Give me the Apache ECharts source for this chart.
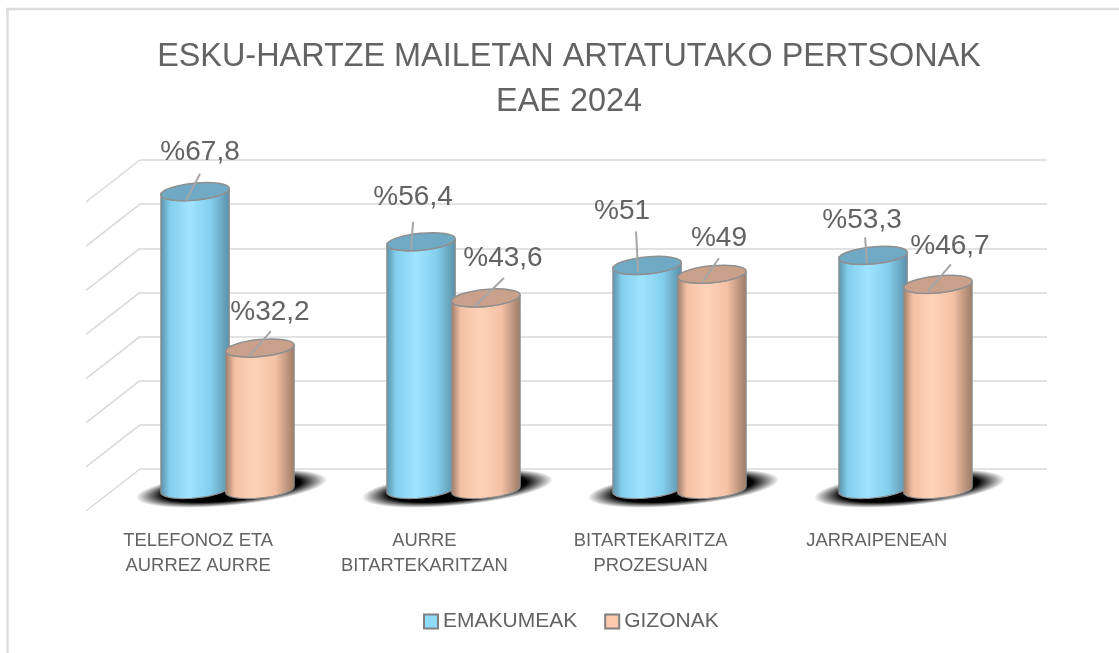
<!DOCTYPE html>
<html><head><meta charset="utf-8">
<style>html,body{margin:0;padding:0;background:#fff}#c{width:1119px;height:653px}</style>
<script src="https://cdn.jsdelivr.net/npm/echarts@6/dist/echarts.min.js"></script>
</head><body><div id="c"></div>
<script>
const titleLines = ['ESKU-HARTZE MAILETAN ARTATUTAKO PERTSONAK', 'EAE 2024'];
const categories = ['TELEFONOZ ETA\nAURREZ AURRE', 'AURRE\nBITARTEKARITZAN', 'BITARTEKARITZA\nPROZESUAN', 'JARRAIPENEAN'];
const emakumeak = [67.8, 56.4, 51, 53.3];
const gizonak = [32.2, 43.6, 49, 46.7];
const wallTicks = [0, 10, 20, 30, 40, 50, 60, 70];
const labelsEma = ['%67,8', '%56,4', '%51', '%53,3'];
const labelsGiz = ['%32,2', '%43,6', '%49', '%46,7'];
// manual label layout, relative to the top of each cylinder: [textDx, textDy, leaderStartDx, leaderStartDy, leaderEndDx, leaderEndDy]
const layoutEma = [[5,-39,5,-18,-9,9],[-8,-44,-8,-20,-10,8],[-25,-54,-11,-34,-9,6],[-11,-35,-8,-18,-6,8]];
const layoutGiz = [[10,-36,11,-17,-11,8],[17,-40,18,-20,-11,8],[7,-36,7,-16,-9,7],[12,-38,13,-20,-10,7]];

const FONT = 'Liberation Sans';
const GREY = '#636363';
const PHI = -5.5 * Math.PI / 180;

function ell(cx, cy, a, b, t) {
  return [cx + a*Math.cos(t)*Math.cos(PHI) - b*Math.sin(t)*Math.sin(PHI),
          cy + a*Math.cos(t)*Math.sin(PHI) + b*Math.sin(t)*Math.cos(PHI)];
}
function side(light, mid, dark) {
  return {type:'linear',x:0,y:0,x2:1,y2:0,colorStops:[
    {offset:0,color:dark},{offset:0.14,color:mid},{offset:0.42,color:light},
    {offset:0.72,color:mid},{offset:1,color:dark}]};
}
function cylinder(values, labels, layout, offsetFrac, fill, topFill) {
  return function(params, api) {
    const i = params.dataIndex;
    const band = api.size([1,0])[0];
    const base = api.coord([i, 0]);
    const cx = base[0] + band*offsetFrac;
    const top = api.coord([i, api.value(1)])[1];
    const bot = base[1];
    const a = band*0.152, b = 8.5;
    const pts = [];
    for (let k=0;k<=24;k++) pts.push(ell(cx,bot,a,b,Math.PI - Math.PI*k/24));
    for (let k=0;k<=24;k++) pts.push(ell(cx,top,a,b,Math.PI*k/24));
    const L = layout[i];
    return {type:'group',children:[
      {type:'polygon',shape:{points:pts},style:{fill:fill,stroke:'#8f8f8f',lineWidth:1.2}},
      {type:'ellipse',shape:{cx:cx,cy:top,rx:a,ry:b},rotation:-PHI,originX:cx,originY:top,
        style:{fill:topFill,stroke:'#8f8f8f',lineWidth:1.5}},
      {type:'line',shape:{x1:cx+L[2],y1:top+L[3],x2:cx+L[4],y2:top+L[5]},style:{stroke:'#a6a6a6',lineWidth:2}},
      {type:'text',style:{text:labels[i],x:cx+L[0],y:top+L[1],align:'center',verticalAlign:'middle',
        fill:GREY,font:'28px "'+FONT+'"'}}
    ]};
  };
}
function floorShadow(params, api) {
  const base = api.coord([params.dataIndex, 0]);
  return {type:'circle',shape:{cx:0,cy:0,r:10},x:base[0]+4,y:base[1]-1,scaleX:9.6,scaleY:1.7,rotation:-PHI,
    style:{fill:{type:'radial',x:0.5,y:0.5,r:0.5,colorStops:[
      {offset:0,color:'rgba(0,0,0,1)'},{offset:0.72,color:'rgba(0,0,0,1)'},{offset:1,color:'rgba(0,0,0,0)'}]}}};
}
function wallSide(params, api) {
  const band = api.size([1,0])[0];
  const p = api.coord([0, api.value(0)]);
  const x = p[0]-band/2;
  return {type:'line',shape:{x1:x,y1:p[1],x2:x-54,y2:p[1]+42},style:{stroke:'#d9d9d9',lineWidth:1.5}};
}
const hiddenCat = {type:'category',data:categories,axisLine:{show:false},axisTick:{show:false},axisLabel:{show:false}};
const hiddenVal = {type:'value',min:0,max:70,interval:10,axisLine:{show:false},axisTick:{show:false},axisLabel:{show:false},splitLine:{show:false}};
const chart = echarts.init(document.getElementById('c'),null,{renderer:'canvas'});
chart.setOption({
  backgroundColor:'#fff',animation:false,
  title:{text:titleLines.join('\n'),left:564,top:29,textAlign:'center',
    textStyle:{fontFamily:FONT,fontSize:32.4,fontWeight:'normal',color:GREY,lineHeight:45.5}},
  legend:{left:418,top:606,itemWidth:14,itemHeight:14,itemGap:27,icon:'rect',
    textStyle:{fontFamily:FONT,fontSize:21,color:GREY},
    data:[{name:'EMAKUMEAK',itemStyle:{color:'#8fdcff',borderColor:'#808080',borderWidth:2}},
          {name:'GIZONAK',itemStyle:{color:'#fcc9ad',borderColor:'#808080',borderWidth:2}}]},
  grid:[
    {left:140,right:72,top:160,height:309},   // back wall
    {left:114.5,width:904,top:182,height:307.5}, // bar plane
    {left:85,width:905,top:200,height:310}    // front plane (category labels)
  ],
  xAxis:[
    Object.assign({},hiddenCat,{gridIndex:0}),
    Object.assign({},hiddenCat,{gridIndex:1}),
    Object.assign({},hiddenCat,{gridIndex:2,axisLabel:{show:true,interval:0,margin:18,fontFamily:FONT,fontSize:18.4,color:GREY,lineHeight:25}})
  ],
  yAxis:[
    Object.assign({},hiddenVal,{gridIndex:0,splitLine:{show:true,lineStyle:{color:'#d9d9d9',width:1.5}}}),
    Object.assign({},hiddenVal,{gridIndex:1}),
    Object.assign({},hiddenVal,{gridIndex:2})
  ],
  series:[
    {type:'custom',name:'wall',xAxisIndex:0,yAxisIndex:0,data:wallTicks.map(v=>[v]),encode:{y:0},renderItem:wallSide,silent:true,z:1,clip:false},
    {type:'custom',name:'shadow',xAxisIndex:1,yAxisIndex:1,data:categories.map((c,i)=>[i,0]),renderItem:floorShadow,silent:true,z:2,clip:false},
    {type:'custom',name:'EMAKUMEAK',xAxisIndex:1,yAxisIndex:1,itemStyle:{color:'#8fdcff'},clip:false,z:3,
      data:emakumeak.map((v,i)=>[i,v]),
      renderItem:cylinder(emakumeak,labelsEma,layoutEma,-0.1435,side('#9fe3ff','#84cfee','#5a8fa6'),'#6fa9c4')},
    {type:'custom',name:'GIZONAK',xAxisIndex:1,yAxisIndex:1,itemStyle:{color:'#fcc9ad'},clip:false,z:4,
      data:gizonak.map((v,i)=>[i,v]),
      renderItem:cylinder(gizonak,labelsGiz,layoutGiz,0.1435,side('#ffd2b8','#f4c1a5','#9c7a66'),'#c9a08a')}
  ],
  graphic:[
    {type:'line',shape:{x1:7.5,y1:653,x2:7.5,y2:9},style:{stroke:'#dcdcdc',lineWidth:2.5},silent:true},
    {type:'line',shape:{x1:6,y1:9,x2:1119,y2:9},style:{stroke:'#dcdcdc',lineWidth:2.5},silent:true}
  ]
});
</script></body></html>
